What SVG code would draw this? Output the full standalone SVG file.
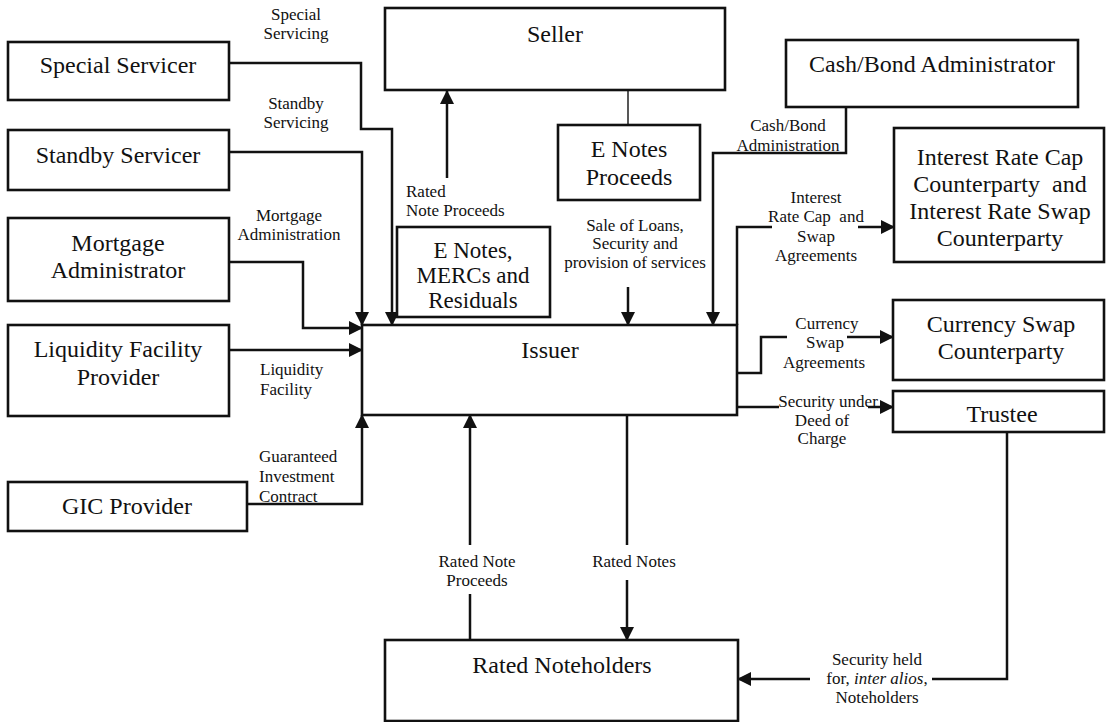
<svg xmlns="http://www.w3.org/2000/svg" width="1109" height="722" viewBox="0 0 1109 722">
<style>
.box{fill:#fff;stroke:#111;stroke-width:2.6}
.nt{font-family:"Liberation Serif","DejaVu Serif","Times New Roman",serif;font-size:24px;fill:#111;text-anchor:middle}
.lb{font-family:"Liberation Serif","DejaVu Serif","Times New Roman",serif;font-size:17px;fill:#111;text-anchor:middle}
.ll{text-anchor:start}
.c{fill:none;stroke:#111;stroke-width:2.5}
.thin{fill:none;stroke:#111;stroke-width:1.4}
</style>
<defs>
<marker id="ah" viewBox="0 0 14 14" refX="13" refY="7" markerWidth="14" markerHeight="14" markerUnits="userSpaceOnUse" orient="auto">
<path d="M0,0 L14,7 L0,14 z" fill="#111"/>
</marker>
</defs>
<rect width="1109" height="722" fill="#fff"/>

<g id="connectors">
<path class="c" d="M229,63 H361 V129 H392 V325" marker-end="url(#ah)"/>
<path class="c" d="M229,152 H362 V325" marker-end="url(#ah)"/>
<path class="c" d="M229,262 H303 V328 H362" marker-end="url(#ah)"/>
<path class="c" d="M229,350 H362" marker-end="url(#ah)"/>
<path class="c" d="M247,504 H362 V415" marker-end="url(#ah)"/>
<path class="c" d="M447,178 V91" marker-end="url(#ah)"/>
<path class="thin" d="M628,90 V125"/>
<path class="c" d="M628,287 V325" marker-end="url(#ah)"/>
<path class="c" d="M846,107 V153 H713 V325" marker-end="url(#ah)"/>
<path class="c" d="M737,325 V227 H772"/>
<path class="c" d="M858,227 H894" marker-end="url(#ah)"/>
<path class="c" d="M737,373 H761 V337 H787"/>
<path class="c" d="M847,337 H893" marker-end="url(#ah)"/>
<path class="c" d="M737,407 H779"/>
<path class="c" d="M868,407 H893" marker-end="url(#ah)"/>
<path class="c" d="M470,640 V594"/>
<path class="c" d="M470,545 V415" marker-end="url(#ah)"/>
<path class="c" d="M627,415 V545"/>
<path class="c" d="M627,580 V640" marker-end="url(#ah)"/>
<path class="c" d="M1007,432 V679 H932"/>
<path class="c" d="M810,679 H738" marker-end="url(#ah)"/>
</g>

<g id="labels" font-family="Liberation Serif, DejaVu Serif, serif">
<text class="lb" x="296" y="20">Special</text>
<text class="lb" x="296" y="39">Servicing</text>
<text class="lb" x="296" y="109">Standby</text>
<text class="lb" x="296" y="128">Servicing</text>
<text class="lb" x="289" y="221">Mortgage</text>
<text class="lb" x="289" y="240">Administration</text>
<text class="lb ll" x="260" y="375">Liquidity</text>
<text class="lb ll" x="260" y="395">Facility</text>
<text class="lb ll" x="259" y="462">Guaranteed</text>
<text class="lb ll" x="259" y="482">Investment</text>
<text class="lb ll" x="259" y="502">Contract</text>
<text class="lb ll" x="406" y="197">Rated</text>
<text class="lb ll" x="406" y="216">Note Proceeds</text>
<text class="lb" x="635" y="231">Sale of Loans,</text>
<text class="lb" x="635" y="249">Security and</text>
<text class="lb" x="635" y="268">provision of services</text>
<text class="lb" x="788" y="131">Cash/Bond</text>
<text class="lb" x="788" y="151">Administration</text>
<text class="lb" x="816" y="203">Interest</text>
<text class="lb" x="816" y="222" xml:space="preserve">Rate Cap  and</text>
<text class="lb" x="816" y="242">Swap</text>
<text class="lb" x="816" y="261">Agreements</text>
<text class="lb" x="827" y="329">Currency</text>
<text class="lb" x="825" y="348">Swap</text>
<text class="lb" x="824" y="368">Agreements</text>
<text class="lb" x="828" y="407">Security under</text>
<text class="lb" x="822" y="426">Deed of</text>
<text class="lb" x="822" y="444">Charge</text>
<text class="lb" x="477" y="567">Rated Note</text>
<text class="lb" x="477" y="586">Proceeds</text>
<text class="lb" x="634" y="567">Rated Notes</text>
<text class="lb" x="877" y="665">Security held</text>
<text class="lb" x="877" y="684">for, <tspan font-style="italic">inter alios</tspan>,</text>
<text class="lb" x="877" y="703">Noteholders</text>
</g>

<g id="special-servicer"><rect class="box" x="8" y="42" width="221" height="58"/><text class="nt" x="118" y="73">Special Servicer</text></g>
<g id="standby-servicer"><rect class="box" x="8" y="130" width="221" height="60"/><text class="nt" x="118" y="163">Standby Servicer</text></g>
<g id="mortgage-administrator"><rect class="box" x="8" y="218" width="221" height="83"/><text class="nt" x="118" y="251">Mortgage</text><text class="nt" x="118" y="278">Administrator</text></g>
<g id="liquidity-facility-provider"><rect class="box" x="8" y="325" width="221" height="91"/><text class="nt" x="118" y="357">Liquidity Facility</text><text class="nt" x="118" y="385">Provider</text></g>
<g id="gic-provider"><rect class="box" x="8" y="482" width="239" height="49"/><text class="nt" x="127" y="514">GIC Provider</text></g>
<g id="seller"><rect class="box" x="385" y="8" width="340" height="82"/><text class="nt" x="555" y="42">Seller</text></g>
<g id="e-notes-proceeds"><rect class="box" x="558" y="125" width="142" height="75"/><text class="nt" x="629" y="157">E Notes</text><text class="nt" x="629" y="185">Proceeds</text></g>
<g id="cash-bond-administrator"><rect class="box" x="786" y="40" width="292" height="67"/><text class="nt" x="932" y="72">Cash/Bond Administrator</text></g>
<g id="interest-rate-counterparty"><rect class="box" x="894" y="128" width="210" height="134"/><text class="nt" x="1000" y="165">Interest Rate Cap</text><text class="nt" x="1000" y="192" xml:space="preserve">Counterparty  and</text><text class="nt" x="1000" y="219">Interest Rate Swap</text><text class="nt" x="1000" y="246">Counterparty</text></g>
<g id="e-notes-mercs"><rect class="box" x="397" y="227" width="153" height="90"/><text class="nt" x="473" y="258" style="font-size:23px">E Notes,</text><text class="nt" x="473" y="283" style="font-size:23px">MERCs and</text><text class="nt" x="473" y="308" style="font-size:23px">Residuals</text></g>
<g id="issuer"><rect class="box" x="362" y="325" width="375" height="90"/><text class="nt" x="550" y="358">Issuer</text></g>
<g id="currency-swap-counterparty"><rect class="box" x="893" y="300" width="211" height="80"/><text class="nt" x="1001" y="332">Currency Swap</text><text class="nt" x="1001" y="359">Counterparty</text></g>
<g id="trustee"><rect class="box" x="893" y="391" width="211" height="41"/><text class="nt" x="1002" y="422">Trustee</text></g>
<g id="rated-noteholders"><rect class="box" x="385" y="640" width="353" height="81"/><text class="nt" x="562" y="673">Rated Noteholders</text></g>
</svg>
